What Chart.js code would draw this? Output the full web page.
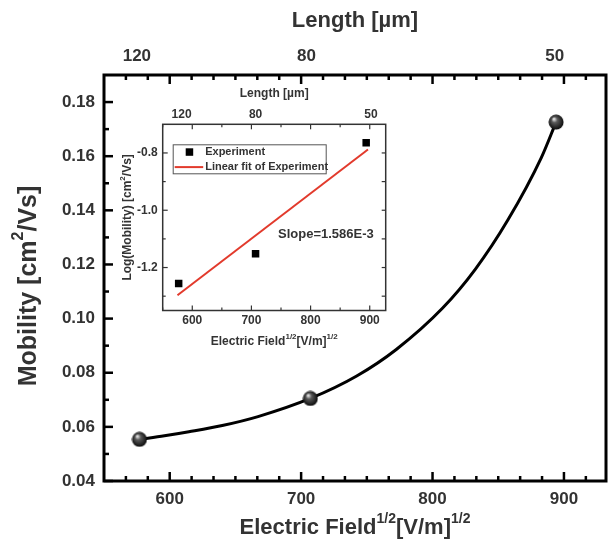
<!DOCTYPE html>
<html lang="en">
<head>
<meta charset="UTF-8">
<title>Mobility vs Electric Field</title>
<script src="https://cdn.jsdelivr.net/npm/chart.js"></script>
<style>
  html, body { margin: 0; padding: 0; background: #fff; }
  .wrap { position: relative; width: 615px; height: 549px; }
  #mainChart { position: absolute; left: 0; top: 0; }
  #insetChart { position: absolute; left: 112px; top: 84px; }
</style>
</head>
<body>
<div class="wrap">
  <canvas id="mainChart" width="615" height="549"></canvas>
  <canvas id="insetChart" width="285" height="272"></canvas>
</div>
<script>
// main plot: mobility vs sqrt(E)
const expField = [577, 707, 894];
const expMobility = [0.0554, 0.0705, 0.1726];
// the black fit curve
const curveField = [577, 596, 614.6, 640, 667.2, 707, 742.3, 772.4, 807.7, 832.5, 857.3, 882.8, 894];
const curveMobility = [0.0554, 0.0567, 0.0582, 0.0605, 0.0638, 0.0705, 0.0788, 0.0886, 0.1039, 0.1182, 0.1364, 0.1595, 0.1726];
const fieldTicks = [600, 700, 800, 900];
const mobilityTicks = [0.04, 0.06, 0.08, 0.10, 0.12, 0.14, 0.16, 0.18];
const lengthLabels = ['120', '80', '50'];
const lengthPos = [575, 704, 893];

// inset: log(mobility) with linear fit
const expLogMobility = [-1.256, -1.152, -0.764];
const fitField = [575, 897];
const fitLogMobility = [-1.297, -0.788];
const logTicks = [-1.2, -1.0, -0.8];
const insetLengthPos = [582, 707, 902];

const FONT = '"Liberation Sans", Arial, sans-serif';
const TEXT = '#333';
Chart.defaults.font.family = FONT;

function makeSphere(d) {
  const c = document.createElement('canvas');
  c.width = d; c.height = d;
  const g = c.getContext('2d');
  const grad = g.createRadialGradient(d * 0.36, d * 0.3, d * 0.04, d / 2, d / 2, d / 2);
  grad.addColorStop(0, '#e0e0e0');
  grad.addColorStop(0.3, '#5a5a5a');
  grad.addColorStop(1, '#050505');
  g.fillStyle = grad;
  g.beginPath();
  g.arc(d / 2, d / 2, d / 2 - 0.5, 0, Math.PI * 2);
  g.fill();
  return c;
}

// text with superscript parts, centred on (cx, cy)
function drawRich(ctx, parts, cx, cy, size) {
  const sup = Math.round(size * 0.65);
  const fontFor = p => `bold ${p.sup ? sup : size}px ${FONT}`;
  let w = 0;
  parts.forEach(p => { ctx.font = fontFor(p); w += ctx.measureText(p.t).width; });
  let x = cx - w / 2;
  ctx.textAlign = 'left';
  ctx.textBaseline = 'middle';
  ctx.fillStyle = TEXT;
  parts.forEach(p => {
    ctx.font = fontFor(p);
    ctx.fillText(p.t, x, p.sup ? cy - size * 0.42 : cy);
    x += ctx.measureText(p.t).width;
  });
}

function drawTicks(ctx, scale, values, len, side, a) {
  values.forEach(v => {
    const p = scale.getPixelForValue(v);
    ctx.beginPath();
    if (side === 'bottom') { ctx.moveTo(p, a.bottom); ctx.lineTo(p, a.bottom - len); }
    if (side === 'top') { ctx.moveTo(p, a.top); ctx.lineTo(p, a.top + len); }
    if (side === 'left') { ctx.moveTo(a.left, p); ctx.lineTo(a.left + len, p); }
    if (side === 'right') { ctx.moveTo(a.right, p); ctx.lineTo(a.right - len, p); }
    ctx.stroke();
  });
}

function range(from, to, step) {
  const out = [];
  for (let v = from; v <= to + 1e-9; v += step) out.push(+v.toFixed(6));
  return out;
}

const fieldTitle = [{ t: 'Electric Field' }, { t: '1/2', sup: true }, { t: '[V/m]' }, { t: '1/2', sup: true }];

const mainDecor = {
  id: 'mainDecor',
  afterDraw(chart) {
    const { ctx, chartArea: a, scales } = chart;
    ctx.save();
    ctx.strokeStyle = '#000';
    ctx.lineWidth = 3;
    ctx.strokeRect(a.left, a.top, a.right - a.left, a.bottom - a.top);

    ctx.lineWidth = 2.5;
    const minorX = range(550 + 100 / 6, 930, 100 / 6).filter(v => Math.abs(v / 100 - Math.round(v / 100)) > 1e-3);
    drawTicks(ctx, scales.x, fieldTicks, 9, 'bottom', a);
    drawTicks(ctx, scales.x, minorX, 5, 'bottom', a);
    drawTicks(ctx, scales.x, fieldTicks, 9, 'top', a);
    drawTicks(ctx, scales.x, minorX, 5, 'top', a);
    drawTicks(ctx, scales.y, mobilityTicks, 9, 'left', a);
    drawTicks(ctx, scales.y, range(0.05, 0.18, 0.02), 5, 'left', a);

    const cx = (a.left + a.right) / 2;
    drawRich(ctx, [{ t: 'Length [\u00b5m]' }], cx, 21, 22);
    drawRich(ctx, fieldTitle, cx, 528, 22);
    ctx.translate(29, (a.top + a.bottom) / 2 + 8);
    ctx.rotate(-Math.PI / 2);
    drawRich(ctx, [{ t: 'Mobility [cm' }, { t: '2', sup: true }, { t: '/Vs]' }], 0, 0, 25);
    ctx.restore();
  }
};

const axisFont = { size: 17, weight: 'bold' };

new Chart(document.getElementById('mainChart'), {
  type: 'scatter',
  data: {
    datasets: [
      {
        label: 'Experiment',
        data: expField.map((x, i) => ({ x, y: expMobility[i] })),
        pointStyle: makeSphere(16),
        pointRadius: 8,
        showLine: false
      },
      {
        label: 'Fit',
        data: curveField.map((x, i) => ({ x, y: curveMobility[i] })),
        showLine: true,
        borderColor: '#000',
        borderWidth: 3,
        pointRadius: 0,
        cubicInterpolationMode: 'monotone'
      }
    ]
  },
  options: {
    responsive: false,
    animation: false,
    events: [],
    layout: { padding: { left: 0, right: 2, top: 0, bottom: 0 } },
    plugins: { legend: { display: false }, tooltip: { enabled: false } },
    scales: {
      x: {
        type: 'linear', position: 'bottom', min: 550, max: 932,
        afterFit: s => { s.height = 68; },
        afterBuildTicks: s => { s.ticks = fieldTicks.map(v => ({ value: v })); },
        grid: { display: false, drawTicks: false },
        border: { display: false },
        ticks: { padding: 8, font: axisFont, color: TEXT, maxRotation: 0, autoSkip: false }
      },
      x2: {
        type: 'linear', position: 'top', min: 550, max: 932,
        afterFit: s => { s.height = 75; },
        afterBuildTicks: s => { s.ticks = lengthPos.map(v => ({ value: v })); },
        grid: { display: false, drawTicks: false },
        border: { display: false },
        ticks: { padding: 8, font: axisFont, color: TEXT, maxRotation: 0, autoSkip: false,
                 callback: (v, i) => lengthLabels[i] }
      },
      y: {
        type: 'linear', min: 0.04, max: 0.19,
        afterFit: s => { s.width = 104; },
        afterBuildTicks: s => { s.ticks = mobilityTicks.map(v => ({ value: v })); },
        grid: { display: false, drawTicks: false },
        border: { display: false },
        ticks: { padding: 9, font: axisFont, color: TEXT, autoSkip: false, callback: v => v.toFixed(2) }
      }
    }
  },
  plugins: [mainDecor]
});

const insetDecor = {
  id: 'insetDecor',
  afterDraw(chart) {
    const { ctx, chartArea: a, scales } = chart;
    ctx.save();
    ctx.strokeStyle = '#333';
    ctx.lineWidth = 1.5;
    ctx.strokeRect(a.left, a.top, a.right - a.left, a.bottom - a.top);

    ctx.lineWidth = 1.2;
    const minorX = [550, 650, 750, 850];
    drawTicks(ctx, scales.x, fieldTicks, 5, 'bottom', a);
    drawTicks(ctx, scales.x, minorX, 3, 'bottom', a);
    drawTicks(ctx, scales.x, fieldTicks, 5, 'top', a);
    drawTicks(ctx, scales.x, minorX, 3, 'top', a);
    const minorY = [-1.3, -1.1, -0.9];
    drawTicks(ctx, scales.y, logTicks, 5, 'left', a);
    drawTicks(ctx, scales.y, minorY, 3, 'left', a);
    drawTicks(ctx, scales.y, logTicks, 4, 'right', a);
    drawTicks(ctx, scales.y, minorY, 4, 'right', a);

    // legend
    const lx = a.left + 10.5, ly = a.top + 20.5;
    ctx.strokeStyle = '#555';
    ctx.lineWidth = 1;
    ctx.strokeRect(lx, ly, 153, 29);
    ctx.fillStyle = '#000';
    ctx.fillRect(lx + 12.5, ly + 3.5, 7.5, 7.5);
    ctx.strokeStyle = '#e23a2c';
    ctx.lineWidth = 2;
    ctx.beginPath();
    ctx.moveTo(lx + 1.5, ly + 22.3);
    ctx.lineTo(lx + 30, ly + 22.3);
    ctx.stroke();
    ctx.fillStyle = TEXT;
    ctx.font = `bold 11px ${FONT}`;
    ctx.textAlign = 'left';
    ctx.textBaseline = 'middle';
    ctx.fillText('Experiment', lx + 32, ly + 7.2);
    ctx.fillText('Linear fit of Experiment', lx + 32, ly + 22.3);

    ctx.font = `bold 13px ${FONT}`;
    ctx.fillText('Slope=1.586E-3', scales.x.getPixelForValue(745), scales.y.getPixelForValue(-1.085));

    const cx = (a.left + a.right) / 2;
    drawRich(ctx, [{ t: 'Length [\u00b5m]' }], cx, 9.5, 12);
    drawRich(ctx, fieldTitle, cx, 257.5, 12);
    ctx.translate(16, (a.top + a.bottom) / 2);
    ctx.rotate(-Math.PI / 2);
    drawRich(ctx, [{ t: 'Log(Mobility) [cm' }, { t: '2', sup: true }, { t: '/Vs]' }], 0, 0, 12);
    ctx.restore();
  }
};

const insetFont = { size: 12, weight: 'bold' };

new Chart(document.getElementById('insetChart'), {
  type: 'scatter',
  data: {
    datasets: [
      {
        label: 'Experiment',
        data: expField.map((x, i) => ({ x, y: expLogMobility[i] })),
        pointStyle: 'rect',
        pointRadius: 5.3,
        backgroundColor: '#000',
        borderColor: '#000',
        borderWidth: 0,
        showLine: false
      },
      {
        label: 'Linear fit of Experiment',
        data: fitField.map((x, i) => ({ x, y: fitLogMobility[i] })),
        showLine: true,
        borderColor: '#e23a2c',
        borderWidth: 2,
        pointRadius: 0
      }
    ]
  },
  options: {
    responsive: false,
    animation: false,
    events: [],
    layout: { padding: { left: 0, right: 11.3, top: 0, bottom: 0 } },
    plugins: { legend: { display: false }, tooltip: { enabled: false } },
    scales: {
      x: {
        type: 'linear', position: 'bottom', min: 550, max: 927,
        afterFit: s => { s.height = 45.5; },
        afterBuildTicks: s => { s.ticks = fieldTicks.map(v => ({ value: v })); },
        grid: { display: false, drawTicks: false },
        border: { display: false },
        ticks: { padding: 3, font: insetFont, color: TEXT, maxRotation: 0, autoSkip: false }
      },
      x2: {
        type: 'linear', position: 'top', min: 550, max: 927,
        afterFit: s => { s.height = 40.3; },
        afterBuildTicks: s => { s.ticks = insetLengthPos.map(v => ({ value: v })); },
        grid: { display: false, drawTicks: false },
        border: { display: false },
        ticks: { padding: 2, font: insetFont, color: TEXT, maxRotation: 0, autoSkip: false,
                 callback: (v, i) => lengthLabels[i] }
      },
      y: {
        type: 'linear', min: -1.35, max: -0.70,
        afterFit: s => { s.width = 50.7; },
        afterBuildTicks: s => { s.ticks = logTicks.map(v => ({ value: v })); },
        grid: { display: false, drawTicks: false },
        border: { display: false },
        ticks: { padding: 5, font: insetFont, color: TEXT, autoSkip: false, callback: v => v.toFixed(1) }
      }
    }
  },
  plugins: [insetDecor]
});
</script>
</body>
</html>
